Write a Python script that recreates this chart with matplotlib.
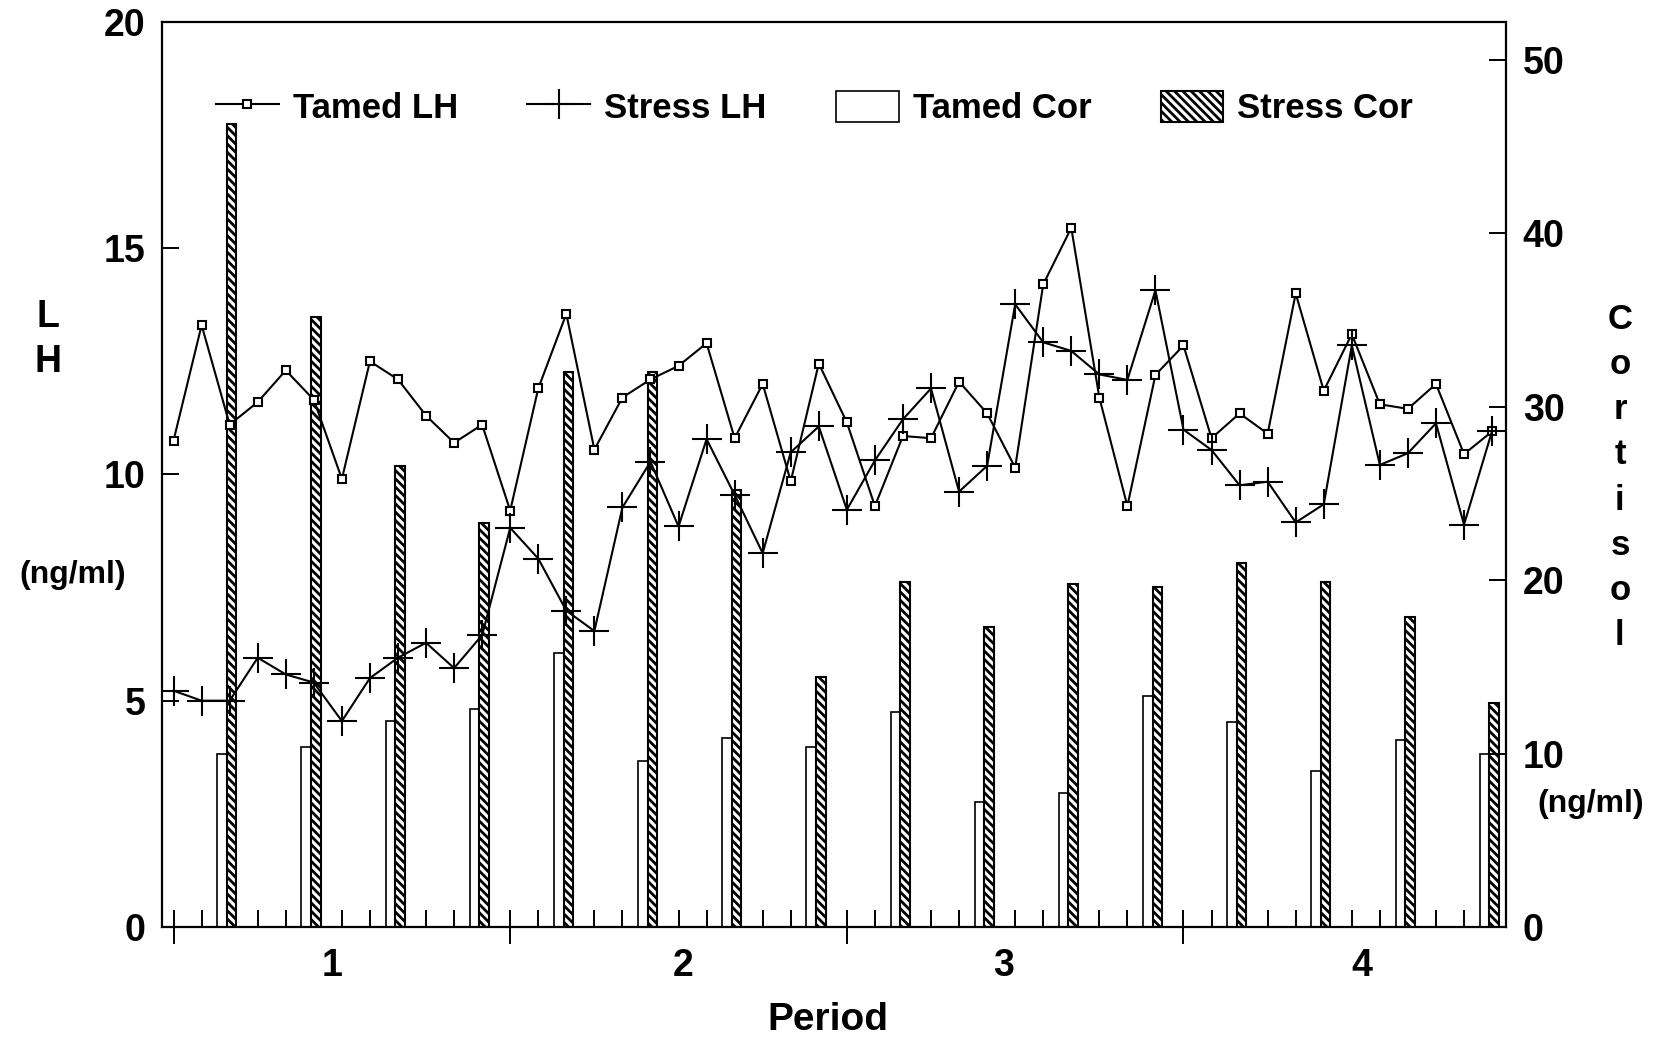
import matplotlib
matplotlib.use("Agg")
import matplotlib.pyplot as plt
from matplotlib.lines import Line2D
from matplotlib.patches import Patch

plt.rcParams['font.family'] = ['Liberation Sans', 'DejaVu Sans']
plt.rcParams['font.weight'] = 'bold'
plt.rcParams['hatch.linewidth'] = 2.0

# LH (ng/ml), 12 samples per period
tamed_lh = [10.75, 13.3, 11.1, 11.6, 12.3, 11.65, 9.9, 12.5, 12.1, 11.3, 10.7, 11.1,
            9.2, 11.9, 13.55, 10.55, 11.7, 12.1, 12.4, 12.9, 10.8, 12.0, 9.85, 12.45,
            11.15, 9.3, 10.85, 10.8, 12.05, 11.35, 10.15, 14.2, 15.45, 11.7, 9.3, 12.2,
            12.85, 10.8, 11.35, 10.9, 14.0, 11.85, 13.1, 11.55, 11.45, 12.0, 10.45, 10.95]
stress_lh = [5.22, 5.0, 5.0, 5.95, 5.58, 5.4, 4.55, 5.5, 5.95, 6.28, 5.72, 6.45,
             8.82, 8.14, 6.99, 6.54, 9.27, 10.28, 8.85, 10.78, 9.55, 8.26, 10.49, 11.06,
             9.22, 10.31, 11.22, 11.9, 9.62, 10.19, 13.76, 12.92, 12.73, 12.21, 12.09, 14.07,
             10.99, 10.54, 9.76, 9.84, 8.94, 9.34, 12.85, 10.21, 10.47, 11.13, 8.89, 10.96]
samples = list(range(len(tamed_lh)))

# cortisol (ng/ml), every third sample
cor_samples = list(range(2, 48, 3))
tamed_cor = [10.0, 10.4, 11.9, 12.6, 15.8, 9.6, 10.9, 10.4, 12.4, 7.2, 7.7, 13.3, 11.8, 9.0, 10.8, 10.0]
stress_cor = [46.3, 35.2, 26.6, 23.3, 32.0, 32.0, 25.2, 14.4, 19.9, 17.3, 19.8, 19.6, 21.0, 19.9, 17.9, 12.9]

period_labels = ['1', '2', '3', '4']
period_label_pos = [5.65, 18.16, 29.6, 42.37]
period_starts = [0, 12, 24, 36]
lh_ticks = [0, 5, 10, 15, 20]
cor_ticks = [0, 10, 20, 30, 40, 50]

rect = [0.0971, 0.1087, 0.8053, 0.8702]
xlim = (-0.41, 47.5)

fig = plt.figure(figsize=(16.69, 10.40), dpi=100)

# bottom layer: cortisol bars on the right scale
ax2 = fig.add_axes(rect)
bw = 0.34
ax2.bar([s - 0.27 for s in cor_samples], tamed_cor, width=bw, color='white',
        edgecolor='black', linewidth=1.2)
ax2.bar([s + 0.07 for s in cor_samples], stress_cor, width=bw, color='white',
        edgecolor='black', hatch='\\\\\\\\', linewidth=1.5)
ax2.set_xlim(*xlim)
ax2.set_ylim(0, 52.2)
ax2.yaxis.tick_right()
ax2.set_yticks(cor_ticks)
ax2.tick_params(axis='y', which='major', direction='in', length=12, width=1.4,
                labelsize=27, pad=12, left=False, right=True)
ax2.set_xticks(period_starts)
ax2.tick_params(axis='x', which='major', direction='inout', length=24, width=1.4,
                labelbottom=False)
for sp in ax2.spines.values():
    sp.set_linewidth(1.6)

# top layer: LH lines on the left scale
ax1 = fig.add_axes(rect)
ax1.patch.set_visible(False)
for sp in ax1.spines.values():
    sp.set_visible(False)
ax1.plot(samples, tamed_lh, color='black', lw=1.5, marker='s', ms=6,
         mfc='white', mec='black', mew=1.5)
ax1.plot(samples, stress_lh, color='black', lw=1.5, marker='+', ms=21, mew=1.5)
ax1.set_xlim(*xlim)
ax1.set_ylim(0, 20)
ax1.set_yticks(lh_ticks)
ax1.tick_params(axis='y', direction='in', length=12, width=1.4, labelsize=27, pad=12)
ax1.set_xticks(period_label_pos, period_labels)
ax1.set_xticks([i for i in samples if i % 3 != 2 and i not in period_starts], minor=True)
ax1.tick_params(axis='x', which='major', length=0, labelsize=27, pad=15)
ax1.tick_params(axis='x', which='minor', direction='in', length=12, width=1.4)

handles = [
    Line2D([], [], color='black', lw=1.5, marker='s', ms=6, mfc='white', mew=1.5),
    Line2D([], [], color='black', lw=1.5, marker='+', ms=21, mew=1.5),
    Patch(facecolor='white', edgecolor='black', linewidth=1.2),
    Patch(facecolor='white', edgecolor='black', hatch='\\\\\\\\', linewidth=1.5),
]
ax1.legend(handles, ['Tamed LH', 'Stress LH', 'Tamed Cor', 'Stress Cor'],
           loc='center left', bbox_to_anchor=(0.040, 0.905), ncol=4, frameon=False,
           fontsize=25, handlelength=1.81, handleheight=1.0, handletextpad=0.4,
           columnspacing=2.0, borderpad=0, borderaxespad=0)

# axis titles
fig.text(0.0288, 0.695, 'L', fontsize=27, ha='center', va='center')
fig.text(0.0288, 0.652, 'H', fontsize=27, ha='center', va='center')
fig.text(0.0437, 0.447, '(ng/ml)', fontsize=23, ha='center', va='center')
for k, ch in enumerate('Cortisol'):
    fig.text(0.9706, 0.693 - k * 0.0435, ch, fontsize=25, ha='center', va='center')
fig.text(0.953, 0.227, '(ng/ml)', fontsize=23, ha='center', va='center')
fig.text(0.496, 0.019, 'Period', fontsize=28, ha='center', va='center')

fig.savefig('out.png', dpi=100)
